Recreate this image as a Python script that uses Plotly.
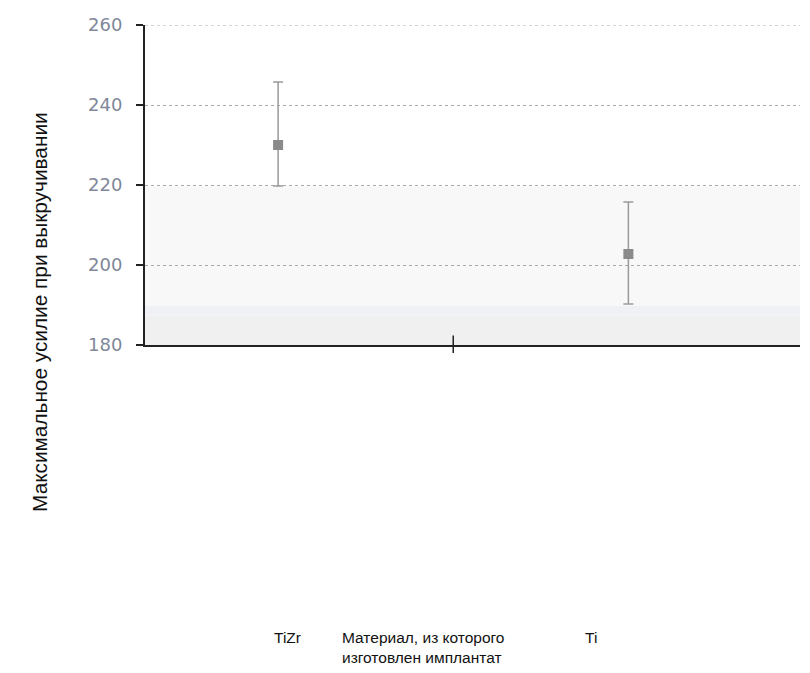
import plotly.graph_objects as go

categories = ["TiZr", "Ti"]
cat_pos = [1, 2]
means = [230, 202.75]
upper = [245.75, 215.75]
lower = [219.75, 190.25]
y_ticks = [180, 200, 220, 240, 260]
y_title = "Максимальное усилие при выкручивании"
x_title = "Материал, из которого<br>изготовлен имплантат"

err_plus = [u - m for u, m in zip(upper, means)]
err_minus = [m - l for m, l in zip(means, lower)]

fig = go.Figure()
fig.add_trace(go.Scatter(
    x=cat_pos, y=means, mode="markers",
    marker=dict(symbol="square", size=10, color="#8a8a8a"),
    error_y=dict(type="data", symmetric=False, array=err_plus, arrayminus=err_minus,
                 color="#9a9a9a", thickness=1.5, width=5),
    showlegend=False,
))

# background bands
fig.add_shape(type="rect", xref="paper", yref="y", x0=0, x1=1, y0=189.8, y1=219.6,
              fillcolor="#f8f8f8", line_width=0, layer="below")
fig.add_shape(type="rect", xref="paper", yref="y", x0=0, x1=1, y0=187.4, y1=189.8,
              fillcolor="#f0f1f6", line_width=0, layer="below")
fig.add_shape(type="rect", xref="paper", yref="y", x0=0, x1=1, y0=180, y1=187.4,
              fillcolor="#f0f0f0", line_width=0, layer="below")
# top gridline at the axis maximum
fig.add_shape(type="line", xref="paper", yref="y", x0=0, x1=1, y0=y_ticks[-1], y1=y_ticks[-1],
              line=dict(color="#aaaaaa", width=1, dash="dot"), layer="below")
# center x tick crossing the axis
fig.add_shape(type="line", xref="x", yref="paper", x0=1.5, x1=1.5, y0=-0.025, y1=0.03,
              line=dict(color="#222", width=1.5))

fig.update_layout(
    width=810, height=673,
    margin=dict(l=137, r=18, t=17, b=336),
    plot_bgcolor="white", paper_bgcolor="white",
    xaxis=dict(range=[0.62, 2.49], showgrid=False, zeroline=False, showticklabels=False,
               ticks="", showline=True, linecolor="#222", linewidth=2, automargin=False),
    yaxis=dict(range=[180, 260], tickvals=y_ticks, showgrid=True, gridcolor="#aaaaaa",
               griddash="dot", gridwidth=1, zeroline=False, showline=True,
               linecolor="#222", linewidth=2, ticks="outside", ticklen=7,
               tickcolor="#222", tickwidth=2, ticklabelstandoff=10, automargin=False,
               tickfont=dict(family="DejaVu Sans", size=18, color="#80879a")),
    font=dict(family="Liberation Sans, Arial", color="#111"),
)

lab_font = dict(family="Liberation Sans, Arial", size=15.5, color="#111")
fig.add_annotation(text=y_title, xref="paper", yref="paper", x=-0.162, y=0.103,
                   xanchor="center", yanchor="middle", textangle=-90, showarrow=False,
                   font=dict(family="Liberation Sans, Arial", size=20.8, color="#111"))
fig.add_annotation(text=categories[0], xref="paper", yref="paper", x=0.218, y=-0.9125,
                   xanchor="center", yanchor="middle", showarrow=False, font=lab_font)
fig.add_annotation(text=x_title, xref="paper", yref="paper", x=0.298, y=-0.945,
                   xanchor="left", yanchor="middle", align="left", showarrow=False,
                   font=lab_font)
fig.add_annotation(text=categories[1], xref="paper", yref="paper", x=0.681, y=-0.9125,
                   xanchor="center", yanchor="middle", showarrow=False, font=lab_font)

fig.write_html("out.html")
